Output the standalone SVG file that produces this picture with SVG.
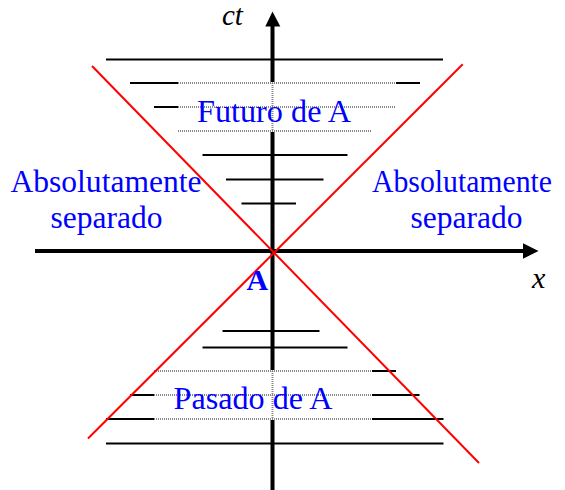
<svg xmlns="http://www.w3.org/2000/svg" width="565" height="490" viewBox="0 0 565 490">
<style>
.h{stroke:#000;stroke-width:2;fill:none}
.d{stroke:#888;stroke-width:2;stroke-dasharray:1 1;fill:none}
.ax{stroke:#000;stroke-width:4;fill:none}
.cone{stroke:#ff0000;stroke-width:2;fill:none}
text{font-family:'Liberation Serif',Tinos,'Times New Roman','DejaVu Serif',serif}
.t{font-size:31px;fill:#0000ff}
.it{font-style:italic;fill:#000}
</style>
<rect width="565" height="490" fill="#fff"/>
<g id="future-lines">
<line class="h" x1="106" y1="59.5" x2="443" y2="59.5"/>
<line class="h" x1="130" y1="83" x2="420" y2="83"/>
<line class="h" x1="154" y1="107" x2="396" y2="107"/>
<line class="h" x1="178" y1="131" x2="372" y2="131"/>
<line class="h" x1="202.5" y1="155" x2="347.5" y2="155"/>
<line class="h" x1="226" y1="179.5" x2="323.5" y2="179.5"/>
<line class="h" x1="241.5" y1="203.5" x2="296" y2="203.5"/>
</g>
<g id="past-lines">
<line class="h" x1="222.5" y1="331" x2="319.5" y2="331"/>
<line class="h" x1="202.5" y1="347.5" x2="347.5" y2="347.5"/>
<line class="h" x1="154" y1="371" x2="396" y2="371"/>
<line class="h" x1="130" y1="395" x2="419.5" y2="395"/>
<line class="h" x1="106" y1="419" x2="443.5" y2="419"/>
<line class="h" x1="106" y1="443.5" x2="443.5" y2="443.5"/>
</g>
<g id="axes">
<line class="ax" x1="35" y1="251" x2="524" y2="251"/>
<polygon points="523,243.3 538.5,251 523,258.7" fill="#000"/>
<line class="ax" x1="272.5" y1="490" x2="272.5" y2="25"/>
<polygon points="265.3,26.5 272.5,11.5 280.3,26.5" fill="#000"/>
</g>
<g id="future-box">
<rect x="178" y="82" width="218" height="50" fill="#fff"/>
<line class="d" x1="178" y1="83" x2="396" y2="83"/>
<line class="d" x1="178" y1="107" x2="395" y2="107"/>
<line class="d" x1="178" y1="131" x2="372" y2="131"/>
<line class="d" x1="272.5" y1="83" x2="272.5" y2="131"/>
<text class="t" x="197" y="121.7" textLength="154" lengthAdjust="spacingAndGlyphs">Futuro de A</text>
</g>
<g id="past-box">
<rect x="154" y="370" width="218" height="50" fill="#fff"/>
<line class="d" x1="154" y1="371" x2="372" y2="371"/>
<line class="d" x1="154" y1="395" x2="372" y2="395"/>
<line class="d" x1="154" y1="419" x2="372" y2="419"/>
<line class="d" x1="272.5" y1="371" x2="272.5" y2="419"/>
<text class="t" x="173.5" y="409.3" textLength="159" lengthAdjust="spacingAndGlyphs">Pasado de A</text>
</g>
<g id="light-cone">
<line class="cone" x1="92" y1="66" x2="479" y2="463"/>
<line class="cone" x1="462.7" y1="64.3" x2="88" y2="438.5"/>
</g>
<g id="labels">
<text class="it" x="222" y="25" font-size="29">ct</text>
<text class="it" x="532" y="288" font-size="30">x</text>
<text x="246.5" y="290" font-size="30" font-weight="bold" fill="#0000ff">A</text>
<text class="t" x="10.5" y="192" textLength="191" lengthAdjust="spacingAndGlyphs">Absolutamente</text>
<text class="t" x="50.5" y="228" textLength="112" lengthAdjust="spacingAndGlyphs">separado</text>
<text class="t" x="372" y="192" textLength="180" lengthAdjust="spacingAndGlyphs">Absolutamente</text>
<text class="t" x="410.5" y="228" textLength="112" lengthAdjust="spacingAndGlyphs">separado</text>
</g>
</svg>
